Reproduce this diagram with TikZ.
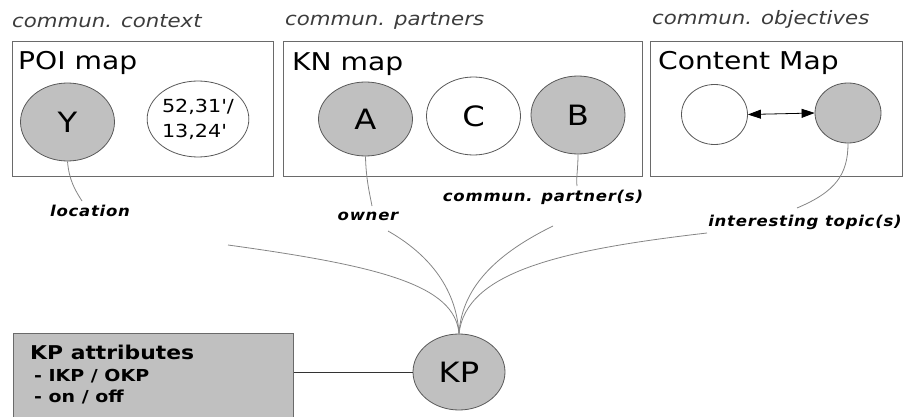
\documentclass[tikz,border=0pt]{standalone}
\usepackage{fontspec}
\setmainfont{DejaVu Sans}[FakeStretch=1.15]
\newfontfamily\lblfont{DejaVu Sans}[FakeStretch=1.1,LetterSpace=5]
\newfontfamily\rawfont{DejaVu Sans}[FakeStretch=1.15,Ligatures=TeXOff]
\usetikzlibrary{shapes.geometric,arrows.meta}
\definecolor{nodegray}{HTML}{C0C0C0}
\definecolor{edgegray}{HTML}{858585}
\definecolor{framegray}{HTML}{6A6A6A}
\definecolor{headgray}{HTML}{3C3C3C}
\begin{document}
\begin{tikzpicture}[x=1pt,y=-1pt,
  mapbox/.style={draw=framegray, line width=0.9pt, rectangle, inner sep=0pt, anchor=north west},
  bub/.style={ellipse, draw=black!65, line width=0.8pt, inner sep=0pt,
    minimum width=94pt, minimum height=78pt, font=\fontsize{28}{28}\selectfont},
  small bub/.style={bub, minimum width=66pt, minimum height=60pt},
  filled/.style={fill=nodegray},
  heading/.style={anchor=base west, inner sep=0pt, text=headgray,
    font=\fontsize{18.5}{20}\selectfont\itshape},
  title/.style={anchor=base west, inner sep=0pt, font=\fontsize{24.5}{26}\selectfont},
  role/.style={anchor=base, inner sep=0pt, font=\lblfont\fontsize{15}{16}\selectfont\bfseries\itshape},
  attr/.style={anchor=base west, inner sep=0pt, font=\fontsize{16.5}{18}\selectfont\bfseries},
  link/.style={draw=edgegray, line width=0.8pt},
  both heads/.style={line width=0.8pt,
    arrows={Triangle[length=13pt,width=9pt]-Triangle[length=13pt,width=9pt]}},
]
\useasboundingbox (0,0) rectangle (903,417);

% section headings
\node[heading] (ctxhead)  at (12,28)  {commun. context};
\node[heading] (parthead) at (285,26) {commun. partners};
\node[heading] (objhead)  at (652,25) {commun. objectives};

% the three maps
\node[mapbox, minimum width=261pt, minimum height=135pt] (poi) at (12,41) {};
\node[mapbox, minimum width=359pt, minimum height=135pt] (kn)  at (283,41) {};
\node[mapbox, minimum width=251.5pt, minimum height=135pt] (cm) at (650,41) {};
\node[title] (poititle) at (18,70)  {POI map};
\node[title] (kntitle)  at (292,71) {KN map};
\node[title] (cmtitle)  at (658,70) {Content Map};

% POI map content
\node[bub, filled] (Y) at (67.5,122) {Y};
\node[bub, fill=white, minimum height=76pt, align=left,
      font=\rawfont\fontsize{18}{25}\selectfont] (geo) at (198,119) {52,31'/\\13,24'};

% KN map content
\node[bub, filled, minimum height=74pt] (A) at (365.5,119) {A};
\node[bub, fill=white] (C) at (473.5,116) {C};
\node[bub, filled] (B) at (578,115) {B};

% Content map content
\node[small bub, fill=white] (T1) at (714.5,114.5) {};
\node[small bub, filled] (T2) at (848,113) {};
\draw[both heads] (T1.east) -- (T2.west);

% role labels
\node[role] (loc)     at (90,217)  {location};
\node[role] (owner)   at (368,221) {owner};
\node[role] (partner) at (543,201) {commun. partner(s)};
\node[role] (topic)   at (805,226) {interesting topic(s)};

\coordinate (locin)     at (82,201);
\coordinate (ownerin)   at (372,206);
\coordinate (partnerin) at (577,186);
\coordinate (topicin)   at (797,208);
\draw[link] (Y.south) .. controls (69,180) and (75,190) .. (locin);
\draw[link] (A.south) .. controls (366,180) and (370,195) .. (ownerin);
\draw[link] (B.south) .. controls (578,170) and (576,178) .. (partnerin);
\draw[link] (T2.south) .. controls (848,175) and (835,192) .. (topicin);

% knowledge point and its attributes
\node[bub, filled, minimum width=92pt, minimum height=76pt] (KP) at (459,372) {KP};
\node[mapbox, fill=nodegray, minimum width=280pt, minimum height=90pt] (kpattr) at (13,333) {};
\node[attr, font=\fontsize{19}{20}\selectfont\bfseries] (attrhead) at (30,359) {KP attributes};
\node[attr] (attr1) at (34,381) {- IKP / OKP};
\node[attr] (attr2) at (34,402) {- on / off};
\draw[line width=0.8pt, draw=black!80] (kpattr.east |- KP.west) -- (KP.west);

% links gathering at the knowledge point
\coordinate (fan1) at (228,245);
\coordinate (fan2) at (388,231);
\coordinate (fan3) at (553,226);
\coordinate (fan4) at (707,233);
\draw[link] (fan1) .. controls (380,266) and (455,285) .. (KP.north);
\draw[link] (fan2) .. controls (425,252) and (456,285) .. (KP.north);
\draw[link] (fan3) .. controls (500,252) and (462,285) .. (KP.north);
\draw[link] (fan4) .. controls (560,250) and (466,272) .. (KP.north);
\end{tikzpicture}
\end{document}
